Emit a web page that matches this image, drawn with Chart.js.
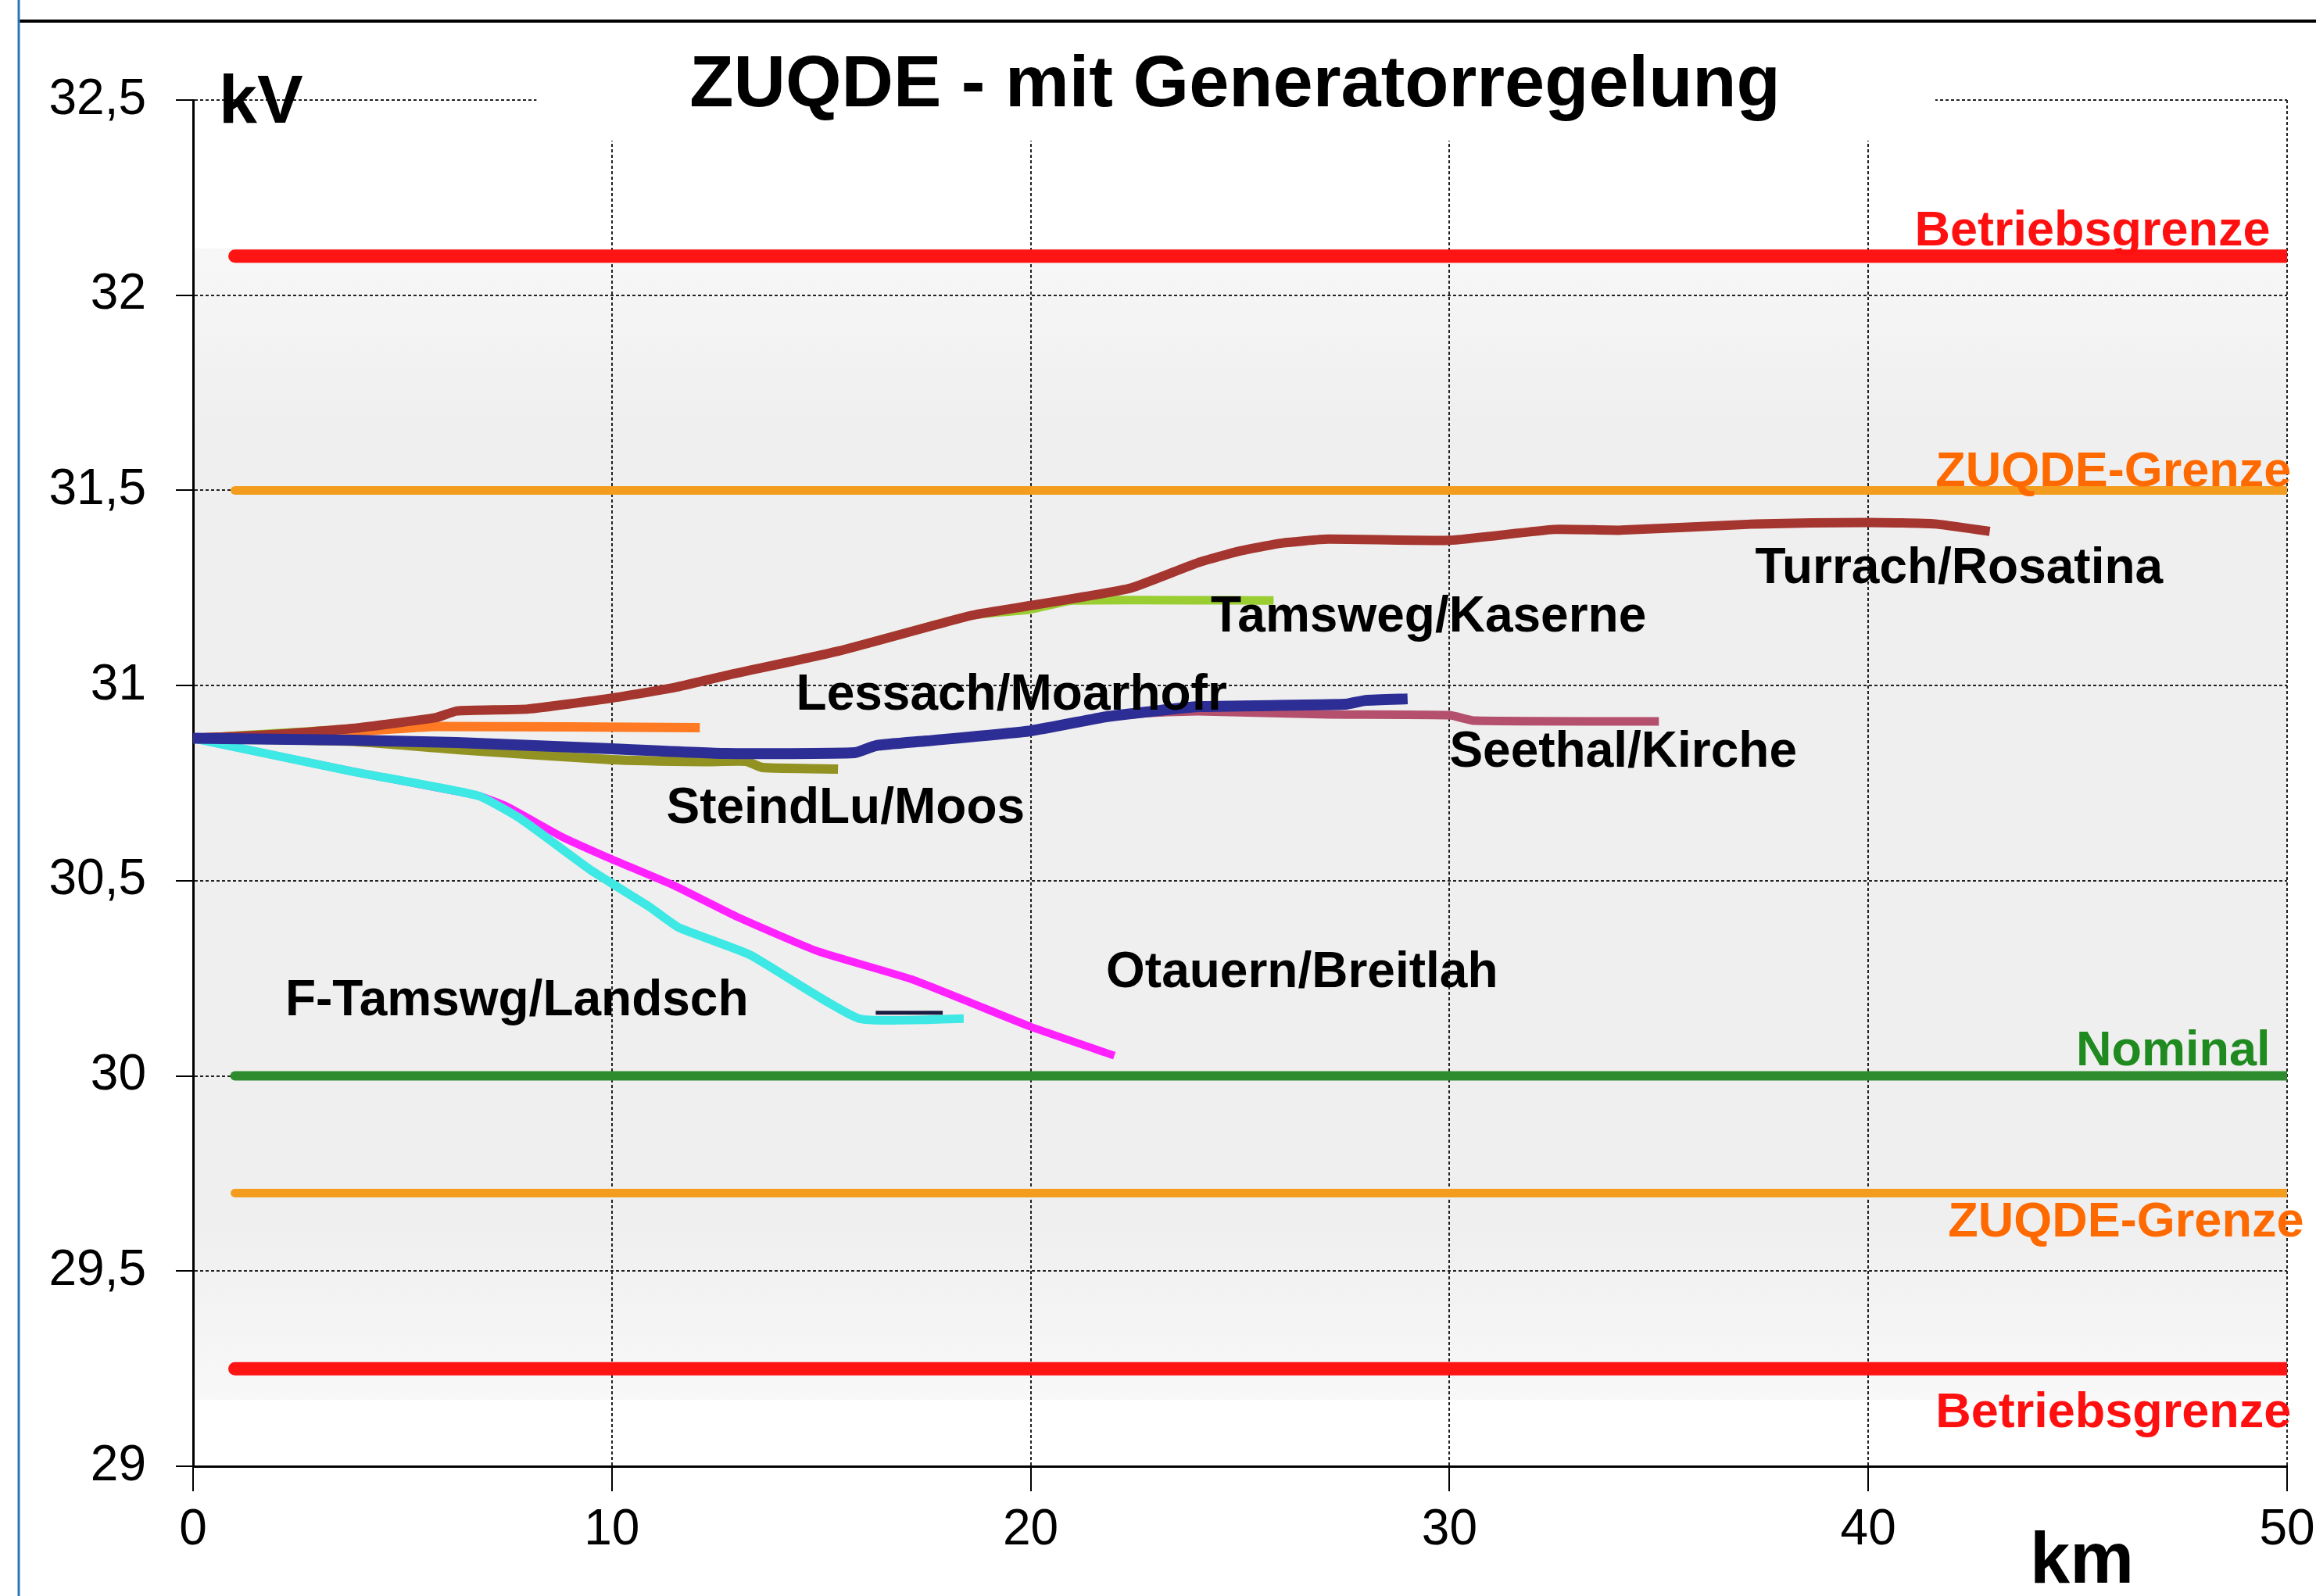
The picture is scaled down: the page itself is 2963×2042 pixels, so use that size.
<!DOCTYPE html>
<html>
<head>
<meta charset="utf-8">
<script src="https://cdn.jsdelivr.net/npm/chart.js@4.4.1/dist/chart.umd.min.js"></script>
<style>
  html, body { margin: 0; padding: 0; background: #fff; }
  #myChart { display: block; }
</style>
</head>
<body>
<canvas id="myChart" width="2963" height="2042"></canvas>
<script>
// km / kV pairs
const turrach = [[0,30.865],[2,30.875],[3.8,30.89],[5.8,30.918],[6.3,30.935],[8,30.94],[10,30.968],[11.5,30.995],[12.7,31.025],[15.4,31.088],[18.6,31.18],[20,31.205],[21.3,31.228],[22.4,31.25],[24,31.315],[25,31.345],[26,31.365],[27.1,31.375],[30,31.372],[32.5,31.4],[34.1,31.398],[37.3,31.414],[40,31.418],[41.6,31.414],[42.9,31.395]];
const tamsweg = [[0,30.865],[3.8,30.89],[5.8,30.918],[6.3,30.935],[8,30.94],[10,30.968],[11.5,30.995],[12.7,31.025],[15.4,31.088],[18.6,31.18],[20,31.195],[21,31.218],[25.8,31.218]];
const lessach = [[0,30.865],[3.8,30.86],[6.3,30.854],[10,30.838],[12.7,30.826],[15.8,30.828],[16.3,30.846],[17.5,30.858],[20,30.884],[21.8,30.92],[22.9,30.934],[24,30.946],[27.5,30.952],[28,30.962],[29,30.966]];
const seethal = [[0,30.865],[3.8,30.86],[6.3,30.854],[10,30.838],[12.7,30.826],[15.8,30.828],[16.3,30.846],[17.5,30.858],[20,30.884],[21.8,30.92],[22.9,30.93],[24,30.934],[27.1,30.926],[30,30.924],[30.6,30.91],[35,30.908]];
const steindlu = [[0,30.865],[3.8,30.857],[6.3,30.836],[10,30.81],[12.2,30.805],[13.2,30.806],[13.6,30.79],[15.4,30.786]];
const otauern = [[0,30.865],[3.8,30.78],[6.8,30.718],[7.5,30.69],[8.8,30.613],[10,30.555],[11.5,30.487],[13,30.407],[14.9,30.32],[17.2,30.246],[20,30.126],[22,30.052]];
const ftamswg = [[0,30.865],[3.8,30.78],[6.8,30.718],[7.8,30.66],[9.5,30.527],[10.9,30.433],[11.6,30.38],[13.3,30.31],[15.9,30.147],[18.4,30.147]];
const orangeRun = [[0,30.865],[3.8,30.882],[5.8,30.895],[12.1,30.892]];
const darkStub = [[16.3,30.162],[17.9,30.162]];

const limitNames = ["Betriebsgrenze", "ZUQDE-Grenze", "Nominal", "ZUQDE-Grenze", "Betriebsgrenze"];
const limitValues = [32.1, 31.5, 30.0, 29.7, 29.25];
const limitFromKm = 1, limitToKm = 50;
const limitLabelKm = [49.6, 50.1, 49.6, 50.4, 50.1];
const limitLabelKv = [32.162, 31.545, 30.062, 29.623, 29.134];

const seriesNames = ["Turrach/Rosatina", "Tamsweg/Kaserne", "Lessach/Moarhofr", "Seethal/Kirche", "SteindLu/Moos", "Otauern/Breitlah", "F-Tamswg/Landsch"];
const nameAtKm = [37.3, 24.3, 14.4, 30.0, 11.3, 21.8, 2.2];
const nameAtKv = [31.297, 31.174, 30.974, 30.828, 30.683, 30.263, 30.19];

const kvMin = 29, kvMax = 32.5, kvStep = 0.5;
const kmMin = 0, kmMax = 50, kmStep = 10;

const FONT = "'Liberation Sans', Arial, sans-serif";

const pts = (arr) => arr.map((p) => ({ x: p[0], y: p[1] }));

const limitColors = ["#ff1414", "#f39c1e", "#2e8b2e", "#f39c1e", "#ff1414"];
const limitTextColors = ["#ff1010", "#ff6a00", "#1f8a1f", "#ff6a00", "#ff1010"];
const limitWidths = [17, 11, 12, 11, 17];

const series = [
  { name: "Lessach", data: lessach, color: "#2d2d96", width: 14, order: 1 },
  { name: "Seethal", data: seethal, color: "#b4506e", width: 11, order: 2 },
  { name: "Turrach", data: turrach, color: "#a5352f", width: 12, order: 3 },
  { name: "Tamsweg", data: tamsweg, color: "#9acd32", width: 11, order: 4 },
  { name: "orange", data: orangeRun, color: "#ff7a22", width: 12, order: 5 },
  { name: "SteindLu", data: steindlu, color: "#929222", width: 12, order: 6 },
  { name: "stub", data: darkStub, color: "#1c1c40", width: 5, order: 0 },
  { name: "F-Tamswg", data: ftamswg, color: "#3ee8e4", width: 11, order: 7 },
  { name: "Otauern", data: otauern, color: "#ff22ff", width: 10, order: 8 },
];

const datasets = [];
series.forEach((s) => {
  datasets.push({
    label: s.name,
    data: pts(s.data),
    borderColor: s.color,
    borderWidth: s.width,
    pointRadius: 0,
    tension: 0.15,
    fill: false,
    order: s.order,
  });
});
limitValues.forEach((v, i) => {
  datasets.push({
    label: limitNames[i],
    data: [{ x: limitFromKm, y: v }, { x: limitToKm, y: v }],
    borderColor: limitColors[i],
    borderWidth: limitWidths[i],
    borderCapStyle: "round",
    pointRadius: 0,
    fill: false,
    order: 20 + i,
  });
});

const decor = {
  id: "decor",
  beforeDraw(chart) {
    const { ctx, chartArea, scales } = chart;
    ctx.save();
    ctx.fillStyle = "#ffffff";
    ctx.fillRect(0, 0, chart.width, chart.height);
    const yTop = scales.y.getPixelForValue(32.0);
    const yBot = scales.y.getPixelForValue(29.25);
    const g = ctx.createLinearGradient(0, yTop - 60, 0, yBot + 40);
    g.addColorStop(0, "#f7f7f7");
    g.addColorStop(0.15, "#efefef");
    g.addColorStop(0.85, "#efefef");
    g.addColorStop(1, "#f8f8f8");
    ctx.fillStyle = g;
    ctx.fillRect(chartArea.left, yTop - 60, chartArea.right - chartArea.left, yBot - yTop + 100);
    ctx.restore();
  },
  beforeDatasetsDraw(chart) {
    const { ctx, scales } = chart;
    // white box behind the title, over the grid
    const x0 = scales.x.getPixelForValue(8.2);
    const x1 = scales.x.getPixelForValue(41.6);
    ctx.save();
    ctx.fillStyle = "#ffffff";
    ctx.fillRect(x0, 40, x1 - x0, 140);
    ctx.fillStyle = "#000";
    ctx.font = "bold 92px " + FONT;
    ctx.textAlign = "center";
    ctx.textBaseline = "alphabetic";
    ctx.fillText("ZUQDE - mit Generatorregelung", 1580, 136);
    ctx.restore();
  },
  afterDatasetsDraw(chart) {
    const { ctx, scales } = chart;
    ctx.save();
    ctx.textBaseline = "middle";
    ctx.font = "bold 64px " + FONT;
    ctx.fillStyle = "#000";
    ctx.textAlign = "left";
    seriesNames.forEach((n, i) => {
      ctx.fillText(n, scales.x.getPixelForValue(nameAtKm[i]), scales.y.getPixelForValue(nameAtKv[i]));
    });
    ctx.textAlign = "right";
    ctx.font = "bold 63px " + FONT;
    limitNames.forEach((n, i) => {
      ctx.fillStyle = limitTextColors[i];
      ctx.fillText(n, scales.x.getPixelForValue(limitLabelKm[i]), scales.y.getPixelForValue(limitLabelKv[i]));
    });
    ctx.restore();
  },
  afterDraw(chart) {
    const { ctx } = chart;
    ctx.save();
    ctx.fillStyle = "#000";
    ctx.textBaseline = "alphabetic";
    ctx.textAlign = "left";
    ctx.font = "bold 88px " + FONT;
    ctx.fillText("kV", 280, 157);
    ctx.font = "bold 92px " + FONT;
    ctx.fillText("km", 2597, 2025);
    // outer frame
    ctx.strokeStyle = "#000";
    ctx.lineWidth = 4;
    ctx.beginPath();
    ctx.moveTo(24, 27);
    ctx.lineTo(chart.width, 27);
    ctx.stroke();
    ctx.strokeStyle = "#2a78b8";
    ctx.lineWidth = 3;
    ctx.beginPath();
    ctx.moveTo(24, 0);
    ctx.lineTo(24, chart.height);
    ctx.stroke();
    ctx.restore();
  },
};

new Chart(document.getElementById("myChart").getContext("2d"), {
  type: "line",
  data: { datasets: datasets },
  options: {
    responsive: false,
    animation: false,
    devicePixelRatio: 1,
    layout: { padding: { top: 128, right: 37, left: 0, bottom: 0 } },
    plugins: { legend: { display: false }, tooltip: { enabled: false }, title: { display: false } },
    scales: {
      x: {
        type: "linear",
        min: kmMin,
        max: kmMax,
        afterFit: (s) => { s.height = 166; s.paddingRight = 0; s.paddingLeft = 0; },
        ticks: { stepSize: kmStep, color: "#000", font: { family: FONT, size: 64 }, padding: 12, maxRotation: 0 },
        grid: { color: "#222", lineWidth: 2, tickLength: 32, tickColor: "#000", tickWidth: 2 },
        border: { display: true, color: "#000", width: 3, dash: [4, 3] },
      },
      y: {
        type: "linear",
        min: kvMin,
        max: kvMax,
        afterFit: (s) => { s.width = 247; },
        ticks: {
          stepSize: kvStep,
          color: "#000",
          font: { family: FONT, size: 64 },
          padding: 38,
          callback: (v) => String(v).replace(".", ","),
        },
        grid: { color: "#222", lineWidth: 2, tickLength: 22, tickColor: "#000", tickWidth: 2 },
        border: { display: true, color: "#000", width: 3, dash: [4, 3] },
      },
    },
  },
  plugins: [decor],
});
</script>
</body>
</html>
